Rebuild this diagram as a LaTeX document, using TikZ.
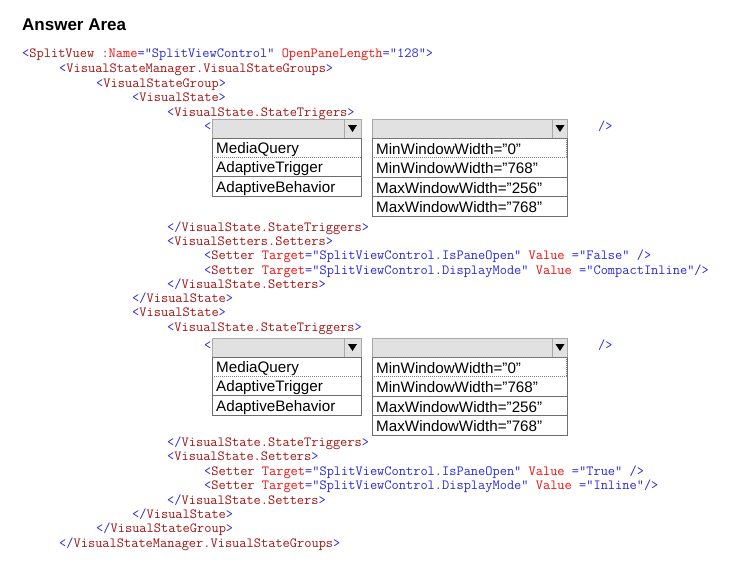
\documentclass[tikz,border=0pt]{standalone}
\usepackage{fontspec}
\setmainfont{Liberation Sans}
\definecolor{xblue}{HTML}{2A2AD8}
\definecolor{xelem}{HTML}{A31515}
\definecolor{xattr}{HTML}{F01010}
\definecolor{hdrfill}{HTML}{E1E1E1}
\definecolor{hdrline}{HTML}{A8A8A8}
\definecolor{lstline}{HTML}{6E6E6E}
\newcommand{\xb}[1]{\textcolor{xblue}{#1}}
\newcommand{\xe}[1]{\textcolor{xelem}{#1}}
\newcommand{\xa}[1]{\textcolor{xattr}{#1}}
\tikzset{
  code/.style={anchor=base west, inner sep=0pt, font=\ttfamily\fontsize{14}{15}\selectfont},
  item/.style={anchor=base west, inner sep=0pt, font=\fontsize{15.2}{17}\selectfont},
  hdr/.style={draw=hdrline, fill=hdrfill, line width=0.8pt},
  lst/.style={draw=lstline, line width=0.8pt},
  sep/.style={draw=lstline, line width=0.6pt},
  focus/.style={draw=gray, dashed, dash pattern=on 1pt off 1pt, line width=0.6pt},
  tri/.style={fill=black}
}
\newcommand{\dropA}[2]{% #1 = y offset, #2 = name prefix
  \path[hdr] (212,119+#1) rectangle (361,138+#1);
  \draw[hdrline,line width=0.8pt] (344,119+#1) -- (344,138+#1);
  \fill[tri] (348,125+#1) -- (357,125+#1) -- (352.5,132+#1) -- cycle;
  \path[lst] (212,138+#1) rectangle (361,196+#1);
  \draw[focus] (212,157.3+#1) -- (361,157.3+#1);
  \draw[sep] (212,176.6+#1) -- (361,176.6+#1);
  \node[item] (#2a) at (216,153.5+#1) {MediaQuery};
  \node[item] (#2b) at (216,172.8+#1) {AdaptiveTrigger};
  \node[item] (#2c) at (216,192.1+#1) {AdaptiveBehavior};
}
\newcommand{\dropB}[2]{%
  \path[hdr] (372,119+#1) rectangle (567,138+#1);
  \draw[hdrline,line width=0.8pt] (552,119+#1) -- (552,138+#1);
  \fill[tri] (555.5,125+#1) -- (564.5,125+#1) -- (560,132+#1) -- cycle;
  \path[lst] (372,138+#1) rectangle (567,216+#1);
  \draw[focus] (372.5,138.5+#1) rectangle (566.5,157.5+#1);
  \draw[sep] (372,177+#1) -- (567,177+#1);
  \draw[sep] (372,196.5+#1) -- (567,196.5+#1);
  \node[item] (#2a) at (376,154+#1) {MinWindowWidth=”0”};
  \node[item] (#2b) at (376,173.5+#1) {MinWindowWidth=”768”};
  \node[item] (#2c) at (376,193+#1) {MaxWindowWidth=”256”};
  \node[item] (#2d) at (376,212.5+#1) {MaxWindowWidth=”768”};
}
\begin{document}
\begin{tikzpicture}[x=1pt,y=-1pt]
\useasboundingbox[fill=white] (0,0) rectangle (733,566);
\node[anchor=base west, inner sep=0pt, font=\bfseries\fontsize{17}{19}\selectfont] (title) at (22,30.5) {Answer Area};

\node[code] (l1) at (22,57) {\xb{<}\xe{SplitVuew} \xa{:Name}\xb{=”SplitViewControl”} \xa{OpenPaneLength}\xb{=”128”>}};
\node[code] (l2) at (59,72) {\xb{<}\xe{VisualStateManager.VisualStateGroups}\xb{>}};
\node[code] (l3) at (96,87) {\xb{<}\xe{VisualStateGroup}\xb{>}};
\node[code] (l4) at (132,101) {\xb{<}\xe{VisualState}\xb{>}};
\node[code] (l5) at (167,116) {\xb{<}\xe{VisualState.StateTrigers}\xb{>}};
\node[code] (o1) at (204,130) {\xb{<}};
\node[code] (c1) at (598,130) {\xb{/>}};
\dropA{0}{da}
\dropB{0}{db}
\node[code] (l6) at (167,231) {\xb{</}\xe{VisualState.StateTriggers}\xb{>}};
\node[code] (l7) at (167,245) {\xb{<}\xe{VisualSetters.Setters}\xb{>}};
\node[code] (l8) at (204,259) {\xb{<}\xe{Setter} \xa{Target}\xb{=”SplitViewControl.IsPaneOpen”} \xa{Value} \xb{=”False”} \xb{/>}};
\node[code] (l9) at (204,274) {\xb{<}\xe{Setter} \xa{Target}\xb{=”SplitViewControl.DisplayMode”} \xa{Value} \xb{=”CompactInline”/>}};
\node[code] (l10) at (167,288) {\xb{</}\xe{VisualState.Setters}\xb{>}};
\node[code] (l11) at (132,302) {\xb{</}\xe{VisualState}\xb{>}};
\node[code] (l12) at (132,316) {\xb{<}\xe{VisualState}\xb{>}};
\node[code] (l13) at (167,331) {\xb{<}\xe{VisualState.StateTriggers}\xb{>}};
\node[code] (o2) at (204,349) {\xb{<}};
\node[code] (c2) at (598,349) {\xb{/>}};
\dropA{219}{dc}
\dropB{219}{dd}
\node[code] (l14) at (167,446) {\xb{</}\xe{VisualState.StateTriggers}\xb{>}};
\node[code] (l15) at (167,460) {\xb{<}\xe{VisualState.Setters}\xb{>}};
\node[code] (l16) at (204,475) {\xb{<}\xe{Setter} \xa{Target}\xb{=”SplitViewControl.IsPaneOpen”} \xa{Value} \xb{=”True”} \xb{/>}};
\node[code] (l17) at (204,489) {\xb{<}\xe{Setter} \xa{Target}\xb{=”SplitViewControl.DisplayMode”} \xa{Value} \xb{=”Inline”/>}};
\node[code] (l18) at (167,504) {\xb{</}\xe{VisualState.Setters}\xb{>}};
\node[code] (l19) at (132,518) {\xb{</}\xe{VisualState}\xb{>}};
\node[code] (l20) at (96,532) {\xb{</}\xe{VisualStateGroup}\xb{>}};
\node[code] (l21) at (59,547) {\xb{</}\xe{VisualStateManager.VisualStateGroups}\xb{>}};
\end{tikzpicture}
\end{document}
